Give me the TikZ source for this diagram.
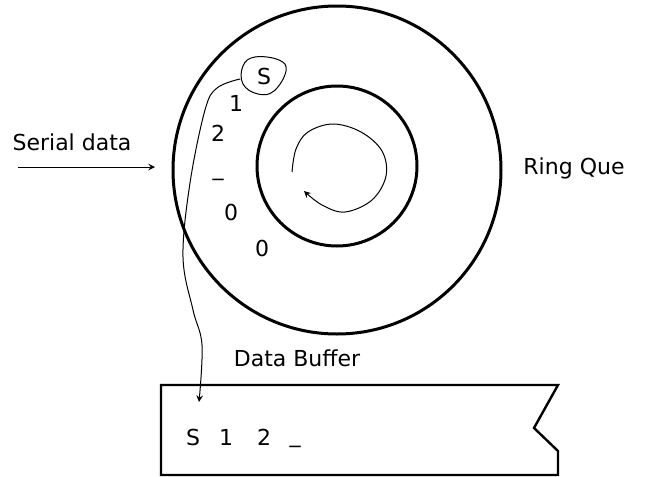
\documentclass[tikz,border=0pt]{standalone}
\usepackage{fontspec}
\setmainfont{DejaVu Sans}

\tikzset{
  ring/.style={circle, draw, line width=1.5pt, inner sep=0pt},
  lbl/.style={font=\fontsize{11}{13}\selectfont, inner sep=1pt},
  thinline/.style={line width=0.5pt},
}

\begin{document}
\begin{tikzpicture}[x=0.5pt,y=-0.5pt]
\useasboundingbox (0,0) rectangle (649,477);

% the ring and its hub
\node[ring, minimum size=164pt] (outer) at (337,170) {};
\node[ring, minimum size=80pt] (inner) at (337,166) {};

% incoming data
\node[lbl] (serial) at (72,142) {Serial data};
\coordinate (src) at (18,167);
\coordinate (dst) at (155,167);
\draw[thinline,-stealth] (src) -- (dst);

\node[lbl] (ringque) at (574,168) {Ring Que};

% queued characters
\node[lbl] (cs) at (264,76) {S};
\draw[thinline] plot[smooth cycle, tension=0.7] coordinates
  {(255,57) (279,60) (286,71) (274,91) (258,94) (243,84) (243,66)};
\node[lbl] (c1) at (236,103) {1};
\node[lbl] (c2) at (218,133) {2};
\node[lbl] (cu) at (218,178) {\_};
\node[lbl] (c0a) at (231,212) {0};
\node[lbl] (c0b) at (262,248) {0};

% rotation inside the hub
\draw[thinline,-stealth] plot[smooth, tension=0.6] coordinates
  {(292,172) (296,149) (308,132) (333,124) (361,132) (382,151) (386,176)
   (372,200) (345,212) (322,205) (304,191)};

% buffer strip
\node[lbl] (buflabel) at (297,358) {Data Buffer};
\coordinate (bnw) at (161,385);
\coordinate (bne) at (558,385);
\coordinate (bnotch) at (534,428);
\coordinate (bse) at (558,451);
\coordinate (bsw) at (161,475);
\draw[line width=1.2pt] (bne) -- (bnw) -- (bsw) -- (bse |- bsw) -- (bse) -- (bnotch) -- cycle;

\node[lbl] (b1) at (193,437) {S};
\node[lbl] (b2) at (226,437) {1};
\node[lbl] (b3) at (264,437) {2};
\node[lbl] (b4) at (295,445) {\_};

% S copied out of the ring into the buffer
\draw[thinline,-stealth] plot[smooth, tension=0.6] coordinates
  {(240,79) (217,88) (205,110) (190,183) (183,257) (193,310) (202,345) (199,402)};
\end{tikzpicture}
\end{document}
